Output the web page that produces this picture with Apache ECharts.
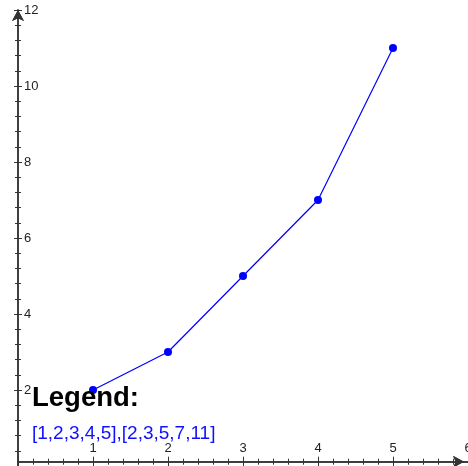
<!DOCTYPE html>
<html>
<head>
<meta charset="utf-8">
<script src="https://cdn.jsdelivr.net/npm/echarts@6/dist/echarts.min.js"></script>
<style>
html, body { margin: 0; padding: 0; background: #fff; }
#chart { width: 468px; height: 466px; }
</style>
</head>
<body>
<div id="chart"></div>
<script>
// data
const xValues = [1, 2, 3, 4, 5]
const yValues = [2, 3, 5, 7, 11]
const xRange = [0, 6]
const yRange = [0, 12]

const axisColor = '#333'
const labelFont = { color: '#222', fontSize: 13, fontFamily: 'Liberation Sans, Arial, sans-serif' }

// one axis draws the inner half of the ticks, the twin draws the outer half
function xAxisPart (inside) {
  return {
    type: 'value',
    position: 'bottom',
    min: xRange[0],
    max: xRange[1],
    interval: 1,
    offset: -4.3,
    axisLine: {
      show: true,
      onZero: false,
      symbol: ['none', 'arrow'],
      symbolSize: [9, 11],
      symbolOffset: [0, -4],
      lineStyle: { color: axisColor, width: 1.5 }
    },
    axisTick: { show: true, inside: inside, length: 5, lineStyle: { color: axisColor, width: 1 } },
    minorTick: { show: true, splitNumber: 5, length: 3, lineStyle: { color: axisColor, width: 1 } },
    axisLabel: Object.assign({ show: inside, inside: true, margin: 7, showMinLabel: false }, labelFont),
    splitLine: { show: false }
  }
}

function yAxisPart (inside) {
  return {
    type: 'value',
    position: 'left',
    min: yRange[0],
    max: yRange[1],
    interval: 2,
    axisLine: {
      show: true,
      onZero: false,
      symbol: ['none', 'arrow'],
      symbolSize: [9, 11],
      symbolOffset: [0, 0],
      lineStyle: { color: axisColor, width: 1.5 }
    },
    axisTick: { show: true, inside: inside, length: 4, lineStyle: { color: axisColor, width: 1 } },
    minorTick: { show: true, splitNumber: 5, length: 3, lineStyle: { color: axisColor, width: 1 } },
    axisLabel: Object.assign({ show: inside, inside: true, margin: 6, showMinLabel: false }, labelFont),
    splitLine: { show: false }
  }
}

const myChart = echarts.init(document.getElementById('chart'))
const option = {
  animation: false,
  grid: { left: 18, right: 0, top: 10, bottom: 0, containLabel: false, outerBoundsMode: 'none' },
  title: [{
    text: 'Legend:',
    left: 32,
    top: 384,
    padding: 0,
    textStyle: { color: '#000', fontSize: 27.5, fontWeight: 'bold', fontFamily: 'Liberation Sans, Arial, sans-serif' }
  }, {
    text: JSON.stringify(xValues) + ',' + JSON.stringify(yValues),
    left: 32,
    top: 424,
    padding: 0,
    textStyle: { color: '#1010ff', fontSize: 19, fontWeight: 'normal', fontFamily: 'Liberation Sans, Arial, sans-serif' }
  }],
  xAxis: [xAxisPart(true), xAxisPart(false)],
  yAxis: [yAxisPart(true), yAxisPart(false)],
  series: [{
    type: 'line',
    data: xValues.map((x, i) => [x, yValues[i]]),
    symbol: 'circle',
    symbolSize: 8,
    itemStyle: { color: '#0000ff' },
    lineStyle: { color: '#0000ff', width: 1.2 },
    z: 1
  }]
}
myChart.setOption(option)
</script>
</body>
</html>
